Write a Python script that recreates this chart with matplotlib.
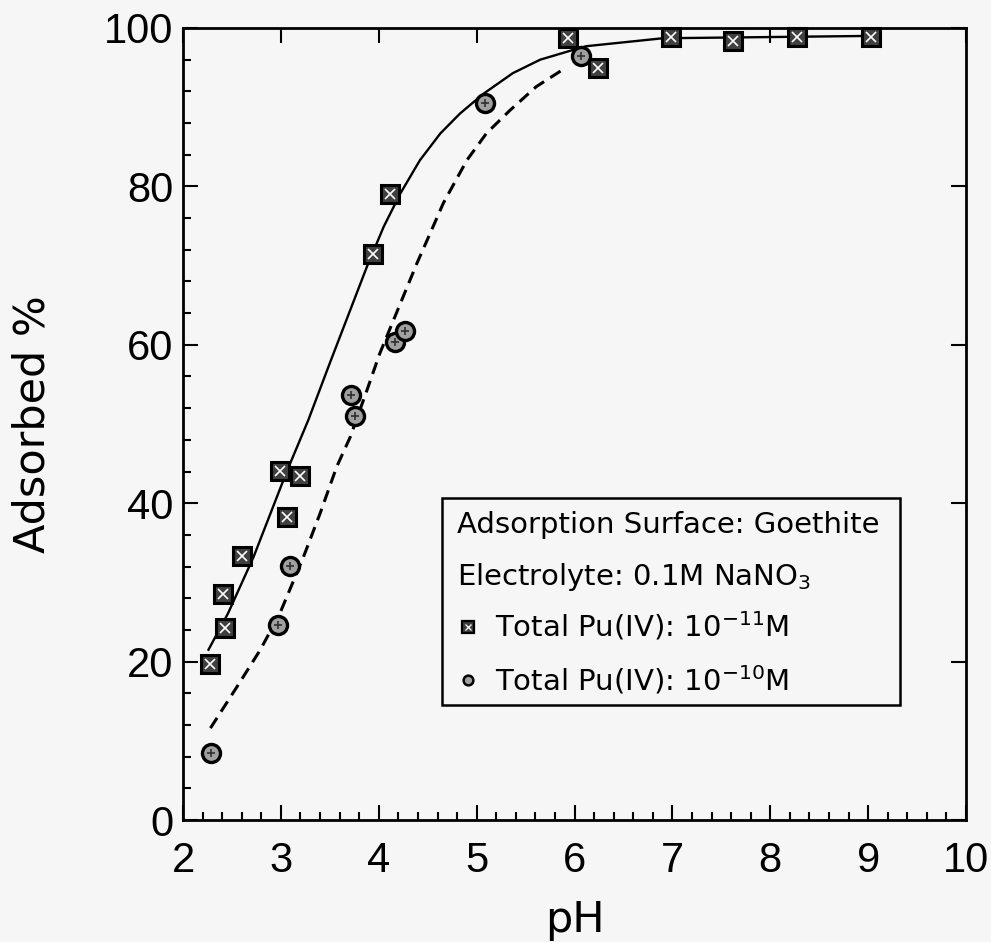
import matplotlib
matplotlib.use("Agg")
import matplotlib.pyplot as plt
import matplotlib.ticker as ticker
from matplotlib.patches import Rectangle

plt.rcParams['font.family'] = ['DejaVu Sans']
plt.rcParams['mathtext.fontset'] = 'dejavusans'
plt.rcParams['mathtext.default'] = 'regular'

# data
ph_sq = [2.28, 2.43, 2.41, 2.60, 3.06, 2.99, 3.20, 3.94, 4.11, 5.93, 6.24, 6.99, 7.62, 8.27, 9.03]
ads_sq = [19.7, 24.2, 28.5, 33.3, 38.3, 44.1, 43.4, 71.5, 79.1, 98.7, 94.9, 98.9, 98.3, 98.8, 98.8]

ph_ci = [2.29, 2.97, 3.09, 3.76, 3.72, 4.17, 4.27, 5.09, 6.07]
ads_ci = [8.5, 24.6, 32.1, 51.0, 53.6, 60.4, 61.7, 90.5, 96.4]

# fitted curves
ph_fit11 = [2.26, 2.46, 2.72, 3.06, 3.28, 3.50, 3.88, 4.05, 4.22, 4.42, 4.63, 4.83,
            5.07, 5.37, 5.65, 5.95, 6.12, 6.90, 9.03]
ads_fit11 = [21.5, 26.1, 33.2, 44.0, 50.5, 57.7, 69.9, 74.9, 79.1, 83.3, 86.7, 89.2,
             91.7, 94.3, 96.0, 97.1, 97.7, 98.7, 99.0]

ph_fit10 = [2.28, 2.55, 2.79, 2.99, 3.23, 3.40, 3.57, 3.71, 3.88, 4.01, 4.22, 4.39,
            4.54, 4.66, 4.90, 5.10, 5.34, 5.61, 5.90]
ads_fit10 = [11.6, 16.8, 21.5, 26.1, 33.2, 38.7, 44.6, 48.4, 54.3, 58.9, 65.2, 70.3,
             74.5, 77.9, 83.3, 86.7, 89.6, 92.6, 94.9]

x_ticks = [2, 3, 4, 5, 6, 7, 8, 9, 10]
y_ticks = [0, 20, 40, 60, 80, 100]

bg = '#f6f6f6'
fig = plt.figure(figsize=(9.91, 9.42), dpi=100, facecolor=bg)
ax = fig.add_axes([0.1847, 0.1295, 0.7901, 0.8408], facecolor=bg)

ax.plot(ph_fit11, ads_fit11, color='black', lw=1.7, zorder=2)
ax.plot(ph_fit10, ads_fit10, color='black', lw=2.2, dashes=(4, 2.4), zorder=2)

ax.plot(ph_sq, ads_sq, ls='none', marker='s', ms=13.5, mfc='#404040', mec='black',
        mew=2.2, zorder=4, clip_on=False)
ax.plot(ph_sq, ads_sq, ls='none', marker='x', ms=7, mec='white', mew=1.2,
        zorder=5, clip_on=False)
ax.plot(ph_ci, ads_ci, ls='none', marker='o', ms=13, mfc='#a0a0a0', mec='black',
        mew=2.4, zorder=4, clip_on=False)
ax.plot(ph_ci, ads_ci, ls='none', marker='+', ms=6, mec='#303030', mew=1.2,
        zorder=5, clip_on=False)

ax.set_xlim(2, 10)
ax.set_ylim(0, 100)
ax.xaxis.set_major_locator(ticker.FixedLocator(x_ticks))
ax.xaxis.set_minor_locator(ticker.MultipleLocator(0.2))
ax.yaxis.set_major_locator(ticker.FixedLocator(y_ticks))
ax.yaxis.set_minor_locator(ticker.MultipleLocator(4))
ax.tick_params(which='both', direction='in', top=True, right=True, width=1.5, color='black')
ax.tick_params(which='major', length=11)
ax.tick_params(which='minor', length=6, top=False, right=False)
ax.tick_params(axis='x', which='major', pad=15)
ax.tick_params(axis='y', which='major', pad=7)
for lab in ax.get_xticklabels() + ax.get_yticklabels():
    lab.set_fontfamily('Liberation Sans')
    lab.set_fontsize(30)
for s in ax.spines.values():
    s.set_linewidth(2)

ax.set_xlabel('pH', fontsize=31)
ax.set_ylabel('Adsorbed %', fontsize=31)
ax.xaxis.set_label_coords(0.5, -0.10)
ax.yaxis.set_label_coords(-0.165, 0.5)

# legend box drawn by hand
tr = ax.transAxes
ax.add_patch(Rectangle((0.331, 0.145), 0.585, 0.262, transform=tr, facecolor=bg,
                       edgecolor='black', lw=1.8, zorder=6))
ax.text(0.350, 0.3624, 'Adsorption Surface: Goethite', transform=tr, fontsize=21,
        va='baseline', zorder=7)
ax.text(0.350, 0.2967, 'Electrolyte: 0.1M NaNO$_3$', transform=tr, fontsize=21,
        va='baseline', zorder=7)
ax.plot([0.364], [0.244], transform=tr, marker='s', ms=8, mfc='#404040', mec='black',
        mew=1.6, zorder=7)
ax.plot([0.364], [0.244], transform=tr, marker='x', ms=4, mec='white', mew=0.9, zorder=8)
ax.text(0.3985, 0.2311, 'Total Pu(IV): 10$^{-11}$M', transform=tr, fontsize=21,
        va='baseline', zorder=7)
ax.plot([0.364], [0.177], transform=tr, marker='o', ms=7, mfc='#a0a0a0', mec='black',
        mew=1.8, zorder=7)
ax.text(0.3985, 0.1641, 'Total Pu(IV): 10$^{-10}$M', transform=tr, fontsize=21,
        va='baseline', zorder=7)

fig.savefig('out.png', dpi=100, facecolor=bg)
